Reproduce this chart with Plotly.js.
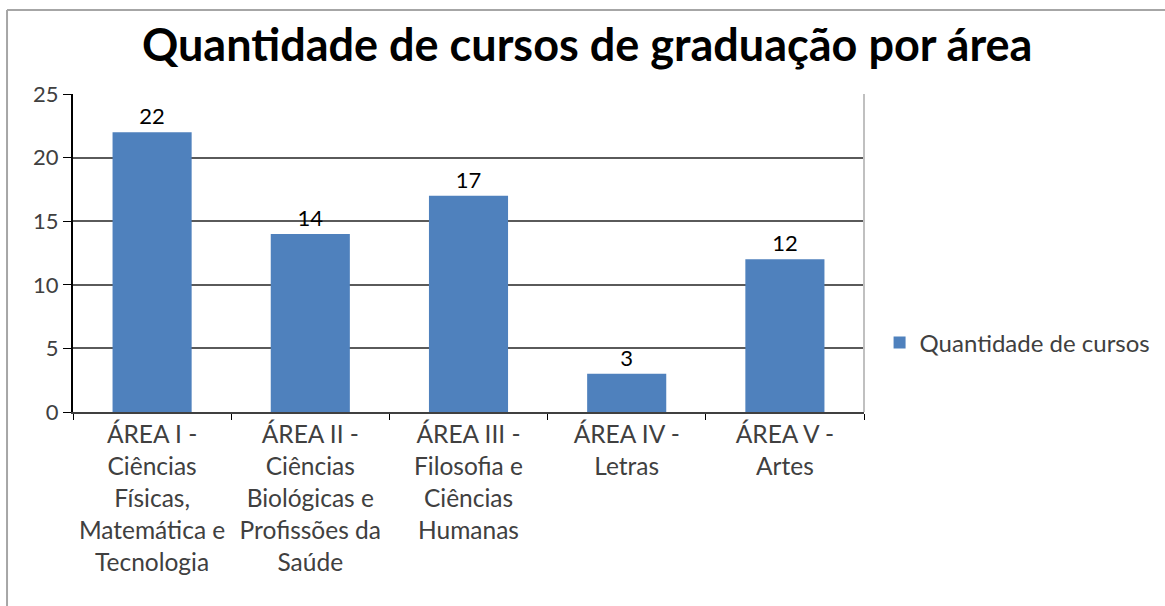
<!DOCTYPE html>
<html>
<head>
<meta charset="utf-8">
<script src="https://cdn.plot.ly/plotly-3.0.1.min.js"></script>
<style>
html,body{margin:0;padding:0;background:#fff;}
#chart{width:1165px;height:606px;}
</style>
</head>
<body>
<div id="chart"></div>
<script>
const categories = [
  "ÁREA I -<br>Ciências<br>Físicas,<br>Matemática e<br>Tecnologia",
  "ÁREA II -<br>Ciências<br>Biológicas e<br>Profissões da<br>Saúde",
  "ÁREA III -<br>Filosofia e<br>Ciências<br>Humanas",
  "ÁREA IV -<br>Letras",
  "ÁREA V -<br>Artes"
];
const values = [22, 14, 17, 3, 12];
const seriesName = "Quantidade de cursos";
const titleText = "Quantidade de cursos de graduação por área";
const yTicks = [0, 5, 10, 15, 20, 25];

const FONT = "Lato, 'Open Sans', sans-serif";

const trace = {
  type: "bar",
  x: categories,
  y: values,
  name: seriesName,
  marker: {color: "#4f81bd"},
  text: values.map(String),
  textposition: "outside",
  textfont: {family: FONT, size: 22, color: "#000"},
  cliponaxis: false,
  showlegend: true,
  hoverinfo: "x+y"
};

const layout = {
  width: 1165,
  height: 606,
  paper_bgcolor: "#fff",
  plot_bgcolor: "#fff",
  margin: {l: 73, r: 301, t: 94, b: 194},
  font: {family: FONT, color: "#404040"},
  title: {
    text: titleText,
    font: {family: FONT, size: 45, color: "#000", weight: "bold"},
    x: 0.504, xanchor: "center",
    y: 0.925, yanchor: "middle"
  },
  bargap: 0.5,
  xaxis: {
    type: "category",
    showgrid: false,
    showline: true,
    linecolor: "#404040",
    linewidth: 2,
    ticks: "outside",
    tickson: "boundaries",
    ticklen: 6,
    tickcolor: "#000",
    tickwidth: 1,
    tickfont: {family: FONT, size: 24.5, color: "#404040"},
    tickangle: 0,
    automargin: false
  },
  yaxis: {
    range: [0, 25],
    tickvals: yTicks,
    showgrid: true,
    gridcolor: "#5a5a5a",
    gridwidth: 2,
    zeroline: false,
    showline: true,
    linecolor: "#000",
    linewidth: 2,
    ticks: "outside",
    ticklen: 8,
    tickcolor: "#000",
    tickwidth: 1,
    tickfont: {family: FONT, size: 22, color: "#404040"},
    automargin: false
  },
  legend: {
    xref: "container", yref: "container",
    x: 0.755, xanchor: "left",
    y: 0.434, yanchor: "middle",
    font: {family: FONT, size: 24, color: "#404040"},
    bgcolor: "rgba(0,0,0,0)"
  },
  shapes: [
    {type: "line", xref: "paper", yref: "paper", x0: 1, x1: 1, y0: 0, y1: 1,
     line: {color: "#c0c0c0", width: 2}},
    {type: "line", xref: "paper", yref: "paper", x0: -0.0834, x1: -0.0834, y0: -0.62, y1: 1.264,
     line: {color: "#a6a6a6", width: 2}},
    {type: "line", xref: "paper", yref: "paper", x0: -0.0834, x1: 1.4, y0: 1.264, y1: 1.264,
     line: {color: "#a6a6a6", width: 2}}
  ]
};

Plotly.newPlot("chart", [trace], layout, {displayModeBar: false, staticPlot: false});
</script>
</body>
</html>
